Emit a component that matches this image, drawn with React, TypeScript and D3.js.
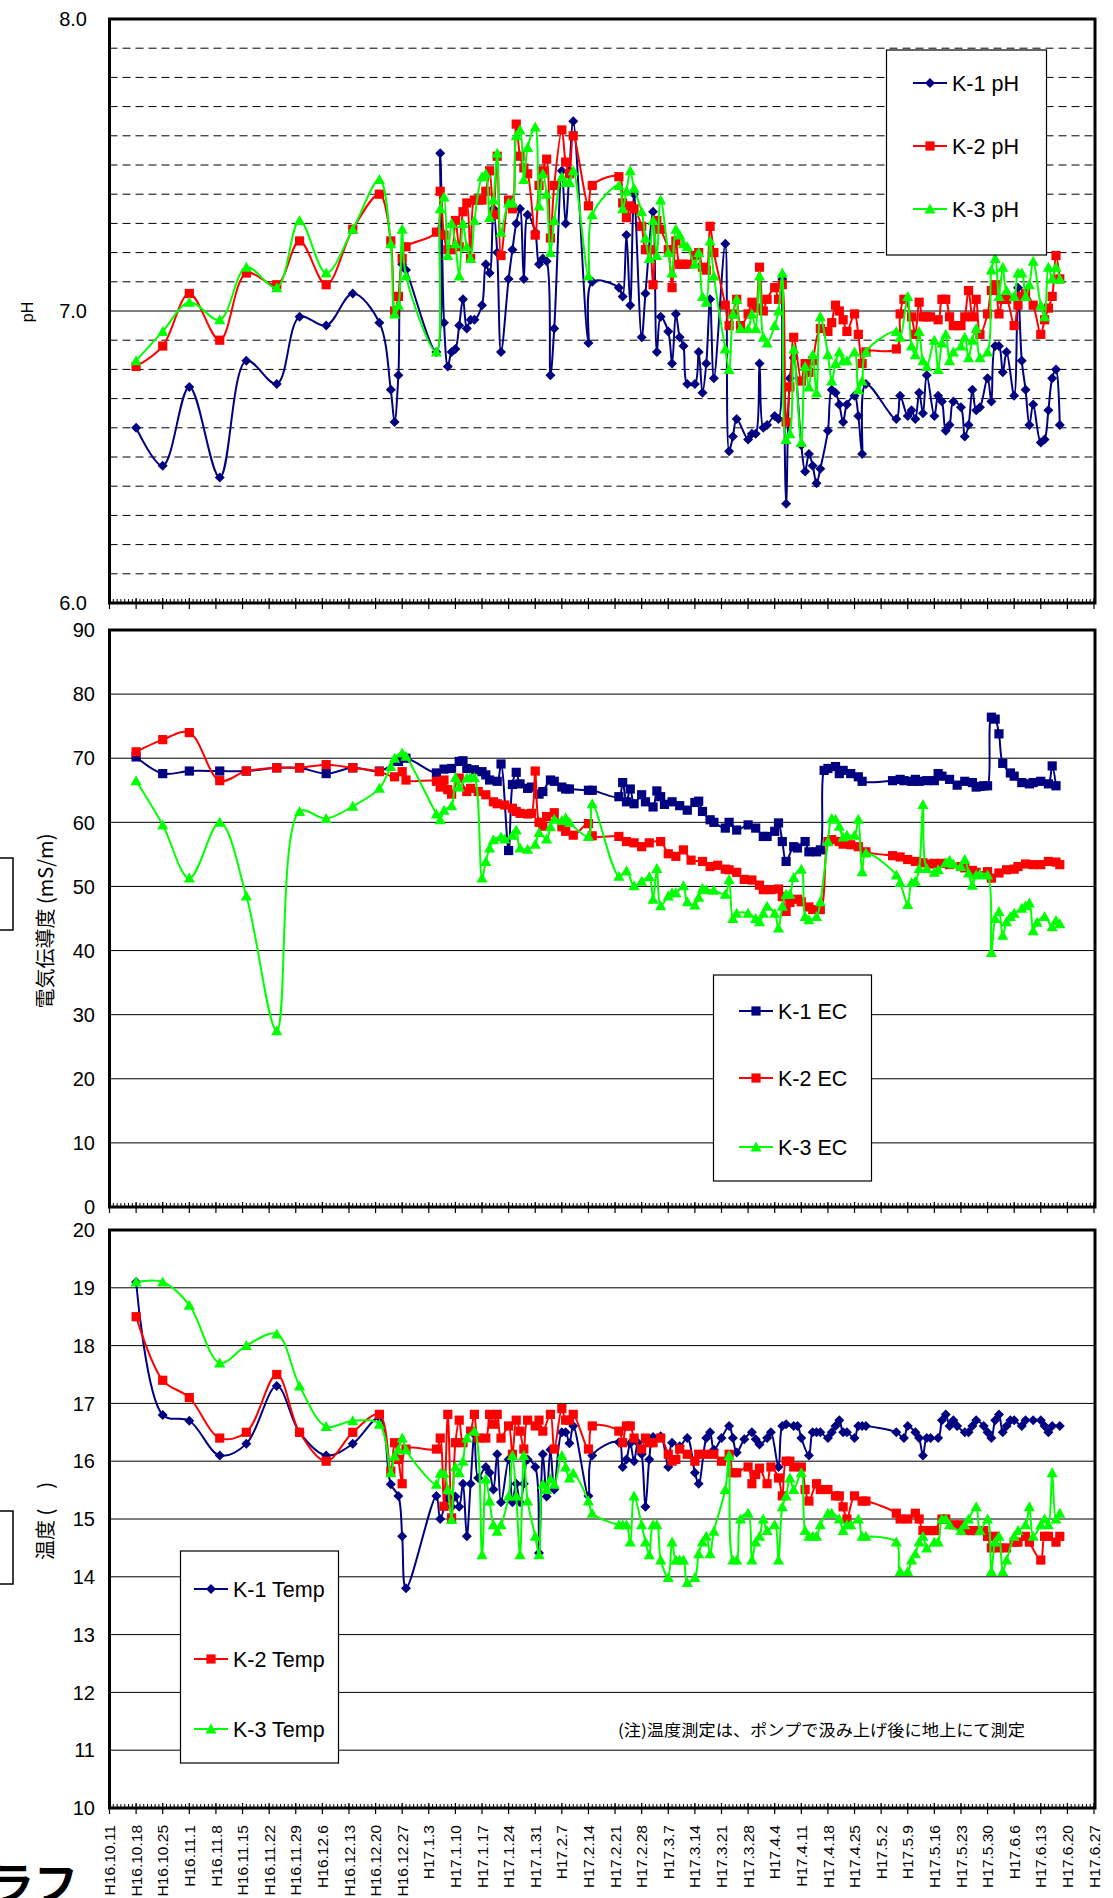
import React from 'react';
import * as d3 from 'd3';

type Pt = [number, number]; // [days since H16.10.11, value]

// ---- x axis: weekly tick labels (H16.10.11 .. H17.6.27) ----
const xTickLabels = [
  'H16.10.11', 'H16.10.18', 'H16.10.25', 'H16.11.1', 'H16.11.8', 'H16.11.15', 'H16.11.22',
  'H16.11.29', 'H16.12.6', 'H16.12.13', 'H16.12.20', 'H16.12.27', 'H17.1.3', 'H17.1.10',
  'H17.1.17', 'H17.1.24', 'H17.1.31', 'H17.2.7', 'H17.2.14', 'H17.2.21', 'H17.2.28',
  'H17.3.7', 'H17.3.14', 'H17.3.21', 'H17.3.28', 'H17.4.4', 'H17.4.11', 'H17.4.18',
  'H17.4.25', 'H17.5.2', 'H17.5.9', 'H17.5.16', 'H17.5.23', 'H17.5.30', 'H17.6.6',
  'H17.6.13', 'H17.6.20', 'H17.6.27',
];

// ---- pH ----
const k1Ph: Pt[] = [
  [7, 6.60], [14, 6.47], [21, 6.74], [29, 6.43], [36, 6.83], [44, 6.75], [50, 6.98], [57, 6.95], [64, 7.06], [71, 6.96],
  [74, 6.73], [75, 6.62], [76, 6.78], [77, 7.16], [78, 7.14], [86, 6.86], [87, 7.54], [88, 6.96], [89, 6.81], [90, 6.86],
  [91, 6.87], [92, 6.95], [93, 7.04], [94, 6.94], [95, 6.97], [96, 6.97], [98, 7.02], [99, 7.16], [100, 7.13], [101, 7.35],
  [102, 7.20], [103, 6.86], [105, 7.11], [106, 7.21], [107, 7.30], [108, 7.35], [109, 7.11], [110, 7.33], [112, 7.27],
  [113, 7.16], [114, 7.18], [115, 7.17], [116, 6.78], [117, 6.94], [119, 7.48], [120, 7.30], [121, 7.48], [122, 7.65],
  [126, 6.89], [127, 7.10], [134, 7.08], [135, 7.05], [136, 7.26], [137, 7.02], [138, 7.40], [140, 6.91], [141, 7.06],
  [143, 7.34], [144, 6.86], [145, 6.98], [147, 6.93], [148, 6.82], [149, 6.99], [150, 6.91], [151, 6.88], [152, 6.75],
  [154, 6.75], [155, 6.86], [156, 6.72], [157, 6.82], [158, 7.04], [159, 6.77], [162, 7.23], [163, 6.52], [164, 6.57],
  [165, 6.63], [168, 6.56], [169, 6.58], [170, 6.58], [171, 6.82], [172, 6.60], [173, 6.61], [175, 6.64], [176, 6.63],
  [177, 7.11], [178, 6.34], [179, 6.77], [180, 6.84], [182, 6.54], [183, 6.45], [184, 6.51], [185, 6.47], [186, 6.41],
  [187, 6.46], [189, 6.59], [190, 6.73], [191, 6.72], [192, 6.68], [193, 6.62], [194, 6.68], [196, 6.71], [197, 6.64],
  [198, 6.51], [199, 6.75], [207, 6.63], [208, 6.71], [210, 6.64], [211, 6.66], [212, 6.63], [213, 6.72], [214, 6.65],
  [215, 6.78], [217, 6.64], [218, 6.71], [219, 6.69], [220, 6.59], [221, 6.61], [222, 6.69], [224, 6.67], [225, 6.57],
  [226, 6.61], [227, 6.73], [228, 6.66], [229, 6.67], [231, 6.77], [232, 6.69], [233, 6.88], [234, 6.88], [235, 6.79],
  [236, 6.86], [238, 6.71], [239, 7.08], [240, 6.83], [241, 6.73], [242, 6.61], [243, 6.68], [245, 6.55], [246, 6.56],
  [247, 6.66], [248, 6.77], [249, 6.80], [250, 6.61],
];
const k2Ph: Pt[] = [
  [7, 6.81], [14, 6.88], [21, 7.06], [29, 6.90], [36, 7.13], [44, 7.09], [50, 7.24], [57, 7.09], [64, 7.28], [71, 7.40],
  [74, 7.24], [75, 7.00], [76, 7.05], [77, 7.18], [78, 7.22], [86, 7.27], [87, 7.41], [88, 7.26], [89, 7.21], [90, 7.21],
  [91, 7.31], [92, 7.22], [93, 7.34], [94, 7.37], [95, 7.18], [96, 7.38], [97, 7.38], [98, 7.38], [99, 7.41], [100, 7.48],
  [101, 7.33], [102, 7.53], [103, 7.19], [105, 7.38], [106, 7.35], [107, 7.64], [108, 7.53], [109, 7.49], [110, 7.47],
  [112, 7.26], [113, 7.43], [114, 7.48], [115, 7.52], [116, 7.25], [117, 7.43], [119, 7.62], [120, 7.51], [121, 7.47],
  [122, 7.60], [126, 7.36], [127, 7.43], [134, 7.46], [135, 7.37], [136, 7.32], [137, 7.36], [138, 7.35], [140, 7.29],
  [141, 7.21], [142, 7.21], [143, 7.09], [144, 7.31], [145, 7.28], [147, 7.21], [148, 7.08], [149, 7.24], [150, 7.16],
  [151, 7.16], [152, 7.16], [154, 7.19], [155, 7.20], [156, 7.15], [157, 7.14], [158, 7.29], [159, 7.20], [162, 7.02],
  [163, 6.95], [164, 6.99], [165, 7.04], [166, 6.95], [168, 6.99], [169, 7.03], [170, 7.01], [171, 7.15], [172, 7.00],
  [173, 7.04], [175, 7.08], [176, 7.04], [177, 7.09], [178, 6.62], [179, 6.74], [180, 6.91], [182, 6.76], [183, 6.82],
  [184, 6.79], [185, 6.83], [187, 6.94], [189, 6.93], [190, 6.96], [191, 7.02], [192, 7.00], [193, 6.97], [194, 6.93],
  [196, 6.99], [197, 6.92], [198, 6.82], [199, 6.86], [207, 6.87], [208, 6.99], [209, 7.04], [211, 6.98], [212, 6.92],
  [213, 7.03], [214, 6.98], [215, 6.98], [216, 6.98], [218, 6.97], [219, 7.04], [220, 7.04], [221, 6.98], [222, 6.95],
  [223, 6.95], [224, 6.95], [225, 6.98], [226, 7.07], [227, 6.98], [228, 7.04], [229, 6.92], [231, 6.99], [232, 7.07],
  [233, 7.09], [234, 6.99], [235, 7.04], [236, 7.04], [238, 6.95], [239, 7.02], [240, 7.05], [241, 7.06], [243, 7.02],
  [245, 6.92], [246, 6.97], [247, 7.01], [248, 7.05], [249, 7.19], [250, 7.11],
];
const k3Ph: Pt[] = [
  [7, 6.83], [14, 6.93], [21, 7.03], [29, 6.97], [36, 7.15], [44, 7.08], [50, 7.31], [57, 7.13], [64, 7.28], [71, 7.45],
  [74, 7.23], [75, 6.99], [76, 7.02], [77, 7.28], [78, 7.12], [86, 6.86], [87, 7.35], [88, 7.39], [89, 7.19], [90, 7.30],
  [91, 7.23], [92, 7.12], [93, 7.30], [94, 7.22], [95, 7.18], [96, 7.31], [98, 7.46], [99, 7.47], [100, 7.32], [101, 7.38],
  [102, 7.54], [103, 7.27], [105, 7.37], [106, 7.37], [107, 7.60], [108, 7.62], [109, 7.45], [110, 7.56], [112, 7.63],
  [113, 7.36], [114, 7.47], [115, 7.40], [116, 7.20], [117, 7.31], [119, 7.46], [120, 7.44], [121, 7.44], [122, 7.48],
  [126, 7.12], [127, 7.33], [134, 7.43], [135, 7.35], [136, 7.41], [137, 7.48], [138, 7.42], [140, 7.34], [141, 7.25],
  [142, 7.18], [143, 7.31], [144, 7.19], [145, 7.38], [147, 7.20], [148, 7.13], [149, 7.28], [150, 7.26], [151, 7.23],
  [152, 7.22], [154, 7.16], [155, 7.20], [156, 7.05], [157, 7.03], [158, 7.24], [159, 7.12], [162, 6.87], [163, 6.80],
  [164, 6.99], [165, 7.04], [166, 6.94], [168, 6.94], [169, 6.99], [170, 6.94], [171, 7.12], [172, 6.91], [173, 6.89],
  [175, 6.95], [176, 7.00], [177, 7.13], [178, 6.56], [179, 6.58], [180, 6.87], [182, 6.55], [183, 6.81], [184, 6.74],
  [185, 6.85], [186, 6.72], [187, 6.98], [189, 6.85], [190, 6.76], [191, 6.82], [192, 6.86], [193, 6.83], [194, 6.83],
  [196, 6.86], [197, 6.73], [198, 6.76], [199, 6.86], [207, 6.93], [208, 6.91], [210, 7.05], [211, 6.88], [212, 6.85],
  [213, 6.93], [214, 6.83], [215, 6.81], [217, 6.90], [218, 6.80], [219, 6.89], [220, 6.92], [221, 6.83], [222, 6.86],
  [224, 6.88], [225, 6.91], [226, 6.84], [227, 6.90], [228, 6.94], [229, 6.84], [231, 6.86], [232, 7.14], [233, 7.18],
  [234, 7.05], [235, 7.15], [236, 7.07], [238, 7.05], [239, 7.13], [240, 7.13], [241, 7.05], [242, 7.09], [243, 7.17],
  [245, 7.02], [246, 6.98], [247, 7.15], [248, 7.11], [249, 7.15], [250, 7.11],
];

// ---- EC (mS/m) ----
const k1Ec: Pt[] = [
  [7, 70.2], [14, 67.6], [21, 68.0], [29, 68.0], [36, 68.0], [44, 68.5], [50, 68.5], [57, 67.6], [64, 68.5], [71, 68.0],
  [76, 69.5], [78, 70.0], [86, 67.7], [88, 68.3], [90, 68.4], [92, 69.5], [93, 69.6], [94, 68.4], [96, 68.2], [98, 67.9],
  [99, 67.4], [100, 66.6], [102, 66.4], [103, 69.1], [105, 55.6], [106, 65.9], [107, 67.8], [108, 66.0], [110, 65.3],
  [111, 65.5], [113, 64.4], [114, 64.8], [116, 66.6], [117, 66.4], [119, 65.5], [120, 65.2], [121, 65.2], [126, 65.0],
  [127, 65.0], [134, 64.0], [135, 66.2], [136, 63.2], [137, 65.2], [138, 62.9], [140, 64.3], [141, 63.2], [143, 62.4],
  [144, 64.9], [145, 64.0], [146, 62.8], [148, 63.2], [150, 62.6], [152, 61.9], [154, 63.1], [155, 63.3], [156, 61.7],
  [158, 60.4], [159, 60.0], [162, 59.1], [163, 60.0], [165, 58.8], [168, 59.6], [170, 59.1], [172, 57.8], [173, 57.8],
  [175, 58.6], [176, 59.9], [177, 57.0], [178, 53.9], [180, 56.2], [181, 56.0], [183, 57.0], [184, 55.4], [186, 55.4],
  [187, 55.7], [188, 68.1], [189, 68.4], [191, 68.7], [192, 67.6], [193, 68.1], [195, 67.6], [197, 67.1], [198, 66.4],
  [206, 66.5], [208, 66.7], [209, 66.5], [211, 66.4], [212, 66.7], [213, 66.4], [215, 66.5], [217, 66.5], [218, 67.6],
  [219, 67.2], [221, 66.7], [223, 65.8], [225, 66.4], [227, 66.2], [228, 65.5], [229, 65.6], [230, 65.7], [231, 65.7],
  [232, 76.4], [233, 76.1], [234, 73.8], [235, 69.2], [237, 67.7], [238, 67.2], [240, 66.2], [242, 66.0], [243, 66.2],
  [245, 66.4], [247, 66.0], [248, 68.8], [249, 65.7],
];
const k2Ec: Pt[] = [
  [7, 71.0], [14, 72.9], [21, 74.0], [29, 66.5], [36, 68.0], [44, 68.5], [50, 68.5], [57, 69.0], [64, 68.5], [71, 67.9],
  [75, 67.1], [77, 67.9], [78, 66.6], [86, 66.4], [87, 65.5], [88, 66.6], [89, 65.1], [90, 64.4], [92, 66.9], [94, 64.8],
  [95, 65.3], [97, 64.8], [99, 64.3], [101, 63.2], [102, 62.9], [104, 62.7], [106, 62.2], [107, 61.7], [108, 61.4],
  [110, 61.3], [111, 61.4], [112, 68.0], [113, 60.0], [114, 59.4], [115, 60.9], [117, 61.5], [119, 59.3], [120, 58.6],
  [122, 58.0], [126, 59.8], [127, 57.9], [134, 57.8], [136, 57.0], [138, 56.8], [140, 56.2], [142, 56.8], [145, 57.0],
  [147, 55.1], [149, 54.7], [151, 55.7], [153, 54.1], [156, 53.9], [158, 53.1], [160, 53.3], [162, 52.7], [163, 52.6],
  [165, 52.2], [167, 51.1], [169, 51.0], [171, 50.2], [172, 49.5], [174, 49.5], [176, 49.6], [177, 48.4], [178, 46.1],
  [179, 47.5], [181, 48.0], [182, 47.6], [184, 46.8], [185, 46.4], [187, 46.4], [189, 57.0], [190, 57.3], [192, 57.0],
  [193, 56.6], [195, 56.5], [197, 56.2], [199, 55.4], [206, 54.8], [208, 54.6], [210, 54.2], [212, 53.9], [214, 53.7],
  [216, 53.5], [217, 53.6], [219, 53.6], [221, 53.4], [224, 53.1], [225, 52.9], [227, 52.5], [228, 52.2], [231, 52.3],
  [232, 51.3], [234, 52.1], [236, 52.6], [238, 52.7], [239, 53.1], [241, 53.5], [243, 53.4], [245, 53.4], [247, 53.9],
  [249, 53.8], [250, 53.4],
];
const k3Ec: Pt[] = [
  [7, 66.5], [14, 59.6], [21, 51.3], [29, 60.0], [36, 48.5], [44, 27.5], [50, 61.7], [57, 60.6], [64, 62.5], [71, 65.3],
  [74, 68.7], [75, 70.0], [77, 70.8], [78, 70.3], [86, 61.3], [87, 60.4], [88, 61.9], [90, 62.6], [91, 67.0], [92, 65.5],
  [94, 66.9], [95, 67.0], [96, 67.0], [98, 51.3], [99, 53.9], [100, 56.0], [101, 57.3], [103, 57.7], [104, 57.4],
  [106, 58.0], [107, 58.8], [108, 56.0], [110, 55.8], [112, 56.6], [113, 58.4], [115, 57.4], [116, 59.3], [117, 60.5],
  [119, 60.3], [120, 60.7], [121, 60.0], [126, 57.8], [127, 62.9], [134, 51.6], [136, 52.4], [138, 50.1], [140, 50.8],
  [142, 51.5], [143, 48.0], [144, 52.8], [145, 47.0], [147, 48.5], [148, 49.0], [149, 49.0], [151, 50.1], [152, 47.6],
  [154, 47.1], [155, 48.3], [156, 49.7], [157, 49.5], [159, 49.4], [162, 48.8], [163, 51.1], [164, 45.0], [165, 45.8],
  [168, 45.8], [170, 45.0], [171, 44.5], [172, 45.8], [173, 46.9], [175, 45.8], [176, 43.5], [177, 46.9], [178, 48.8],
  [179, 48.8], [180, 51.4], [182, 52.7], [183, 45.3], [184, 44.8], [186, 45.3], [187, 47.6], [189, 57.0], [190, 60.6],
  [191, 60.5], [192, 59.4], [193, 57.7], [194, 58.0], [196, 58.0], [197, 60.5], [198, 52.3], [199, 55.2], [207, 51.8],
  [208, 50.6], [210, 47.2], [211, 50.6], [212, 50.8], [213, 52.8], [214, 62.8], [215, 52.8], [217, 52.2], [218, 52.6],
  [220, 53.7], [221, 54.1], [222, 53.5], [224, 53.1], [225, 54.2], [226, 52.1], [227, 50.2], [228, 51.8], [229, 51.9],
  [231, 51.8], [232, 39.7], [233, 45.0], [234, 46.1], [235, 42.4], [236, 44.5], [237, 45.3], [238, 45.8], [240, 46.6],
  [241, 47.0], [242, 47.4], [243, 43.1], [244, 44.4], [246, 45.3], [248, 43.7], [249, 44.7], [250, 44.2],
];

// ---- Temperature ----
const k1Temp: Pt[] = [
  [7, 19.1], [14, 16.8], [21, 16.7], [29, 16.1], [36, 16.3], [44, 17.3], [50, 16.5], [57, 16.1], [64, 16.3], [71, 16.75],
  [74, 15.6], [76, 15.4], [77, 14.7], [78, 13.8], [86, 15.4], [87, 15.0], [89, 15.36], [90, 15.21], [91, 15.39],
  [92, 15.21], [93, 15.61], [94, 14.7], [95, 15.61], [96, 16.46], [97, 15.71], [99, 15.9], [100, 15.8], [101, 15.51],
  [102, 16.12], [103, 15.29], [105, 16.03], [106, 15.29], [107, 15.61], [108, 15.29], [109, 15.61], [110, 16.03],
  [112, 15.9], [113, 14.41], [114, 16.12], [115, 15.39], [116, 16.2], [117, 15.51], [119, 16.5], [120, 16.5], [121, 16.31],
  [122, 16.61], [126, 15.4], [127, 16.1], [134, 16.33], [135, 15.9], [136, 16.03], [137, 16.31], [138, 16.0], [139, 16.32],
  [140, 16.12], [141, 15.21], [142, 16.03], [143, 16.42], [145, 16.43], [147, 15.9], [148, 16.32], [150, 16.26],
  [152, 16.4], [154, 15.8], [155, 15.61], [157, 16.4], [158, 16.5], [159, 16.2], [161, 16.4], [163, 16.61], [164, 16.4],
  [165, 16.15], [167, 16.38], [169, 16.5], [170, 16.38], [171, 16.29], [173, 16.4], [174, 16.5], [176, 15.9], [177, 16.61],
  [178, 16.64], [180, 16.61], [181, 16.61], [182, 16.4], [184, 16.1], [185, 16.5], [186, 16.5], [187, 16.5], [189, 16.4],
  [190, 16.5], [191, 16.61], [192, 16.71], [193, 16.5], [194, 16.5], [196, 16.4], [197, 16.61], [198, 16.61], [199, 16.61],
  [207, 16.5], [209, 16.4], [210, 16.61], [212, 16.5], [213, 16.4], [214, 16.1], [215, 16.4], [216, 16.4], [218, 16.4],
  [219, 16.71], [220, 16.81], [221, 16.61], [222, 16.71], [223, 16.61], [225, 16.5], [226, 16.5], [227, 16.61],
  [228, 16.71], [230, 16.61], [231, 16.5], [232, 16.4], [233, 16.71], [234, 16.81], [235, 16.5], [236, 16.61],
  [237, 16.71], [238, 16.71], [240, 16.61], [241, 16.71], [243, 16.71], [245, 16.71], [246, 16.61], [247, 16.5],
  [248, 16.61], [250, 16.61],
];
const k2Temp: Pt[] = [
  [7, 18.5], [14, 17.4], [21, 17.1], [29, 16.4], [36, 16.5], [44, 17.5], [50, 16.5], [57, 16.0], [64, 16.5], [71, 16.81],
  [74, 15.83], [75, 16.32], [76, 16.03], [77, 15.61], [78, 16.21], [86, 16.21], [87, 16.4], [88, 15.22], [89, 16.81],
  [90, 15.02], [91, 16.32], [92, 16.71], [93, 16.32], [95, 16.52], [96, 16.81], [97, 16.4], [99, 16.4], [100, 16.81],
  [101, 16.64], [102, 16.81], [103, 16.4], [105, 16.61], [106, 16.12], [107, 16.71], [108, 16.52], [109, 16.21],
  [110, 16.71], [112, 16.61], [113, 16.71], [114, 16.52], [116, 16.81], [117, 16.21], [119, 16.91], [120, 16.71],
  [121, 16.71], [122, 16.81], [126, 16.21], [127, 16.61], [134, 16.52], [135, 16.32], [136, 16.61], [137, 16.61],
  [138, 16.4], [140, 16.21], [141, 16.4], [142, 16.32], [143, 16.32], [145, 16.4], [147, 16.12], [148, 16.0], [149, 16.03],
  [150, 16.21], [152, 16.12], [154, 16.0], [155, 16.12], [157, 16.12], [159, 16.12], [161, 16.0], [163, 16.12],
  [164, 15.8], [165, 15.8], [168, 15.9], [169, 15.61], [170, 15.77], [171, 15.88], [173, 15.61], [174, 15.9], [176, 15.71],
  [177, 15.4], [178, 16.0], [179, 16.0], [180, 15.9], [182, 15.9], [183, 15.51], [184, 15.31], [186, 15.61], [187, 15.51],
  [189, 15.51], [191, 15.4], [192, 15.4], [193, 15.21], [194, 15.0], [196, 15.4], [198, 15.31], [199, 15.31], [207, 15.1],
  [208, 15.0], [210, 15.0], [212, 15.1], [213, 15.0], [214, 14.8], [216, 14.8], [217, 14.8], [219, 15.0], [220, 15.0],
  [222, 14.9], [224, 14.9], [225, 14.8], [227, 14.8], [228, 14.8], [230, 14.8], [231, 14.7], [232, 14.5], [233, 14.7],
  [234, 14.5], [236, 14.5], [238, 14.6], [239, 14.6], [241, 14.7], [242, 14.6], [245, 14.29], [246, 14.7], [247, 14.7],
  [249, 14.6], [250, 14.7],
];
const k3Temp: Pt[] = [
  [7, 19.1], [14, 19.1], [21, 18.7], [29, 17.7], [36, 18.0], [44, 18.2], [50, 17.3], [57, 16.6], [64, 16.7], [71, 16.64],
  [74, 15.8], [75, 16.09], [76, 16.2], [77, 16.4], [78, 16.2], [86, 15.6], [87, 15.79], [88, 15.79], [89, 15.51],
  [90, 14.99], [91, 15.9], [92, 15.8], [93, 16.0], [94, 16.4], [96, 16.52], [98, 14.38], [99, 15.69], [100, 15.31],
  [101, 14.9], [102, 14.79], [103, 14.9], [105, 15.4], [106, 16.1], [107, 15.4], [108, 14.38], [109, 16.1], [110, 15.31],
  [112, 14.7], [113, 14.38], [114, 15.6], [115, 15.51], [116, 15.69], [117, 15.6], [119, 16.1], [120, 15.9], [121, 15.71],
  [122, 15.79], [126, 15.31], [127, 15.1], [134, 14.9], [135, 14.9], [136, 14.9], [137, 14.6], [138, 15.4], [140, 14.9],
  [141, 14.6], [142, 14.38], [143, 14.9], [144, 14.9], [145, 14.29], [147, 13.99], [148, 14.6], [149, 14.29], [150, 14.29],
  [151, 14.29], [152, 13.9], [154, 13.99], [155, 14.4], [156, 14.6], [157, 14.7], [158, 14.4], [159, 14.79], [162, 15.51],
  [163, 16.1], [164, 14.29], [165, 14.29], [166, 15.0], [168, 15.1], [169, 14.29], [170, 14.6], [171, 14.7], [172, 15.0],
  [173, 14.8], [175, 14.9], [176, 14.29], [177, 15.21], [178, 15.4], [179, 15.71], [180, 15.51], [182, 15.8], [183, 14.8],
  [184, 14.7], [185, 14.7], [186, 14.7], [187, 14.9], [189, 15.1], [190, 15.1], [192, 15.0], [193, 14.8], [194, 14.9],
  [195, 14.9], [197, 15.0], [198, 14.7], [199, 14.7], [207, 14.6], [208, 14.09], [210, 14.09], [211, 14.29], [212, 14.4],
  [213, 14.6], [214, 14.7], [215, 14.5], [217, 14.6], [218, 14.6], [219, 15.0], [220, 15.0], [221, 14.9], [224, 14.8],
  [225, 14.9], [226, 15.0], [228, 15.21], [229, 14.8], [231, 15.0], [232, 14.09], [233, 14.6], [234, 14.7], [235, 14.09],
  [236, 14.29], [238, 14.7], [239, 14.8], [241, 14.9], [242, 15.21], [243, 14.7], [245, 14.9], [246, 15.0], [247, 14.9],
  [248, 15.8], [249, 15.0], [250, 15.1],
];

const NAVY = '#000080';
const RED = '#ff0000';
const GREEN = '#00ff00';
const LATIN = '"Liberation Sans", Arial, sans-serif';
const JP = '"Noto Sans CJK JP", sans-serif';

const markerPath: Record<string, string> = {
  diamond: 'M0,-5L5,0L0,5L-5,0Z',
  square: 'M-4.6,-4.6H4.6V4.6H-4.6Z',
  triangle: 'M0,-5.5L5.6,4.5H-5.6Z',
};

const X0 = 109.5;
const X1 = 1094;
const x = d3.scaleLinear().domain([0, 259]).range([X0, X1]);

type Series = { name: string; data: Pt[]; color: string; marker: string };
type PanelCfg = {
  top: number;
  bottom: number;
  domain: [number, number];
  labels: number[];
  grid: number[];
  dashed: (v: number) => boolean;
  fmt: (v: number) => string;
  series: Series[];
  legend: { x: number; y: number; w: number; h: number; rows: number[]; lx: number };
  title: string;
  titleY: number;
  titleX: number;
  titleFont: string;
  titleSize: number;
};

const panels: PanelCfg[] = [
  {
    top: 19, bottom: 603, domain: [6, 8],
    labels: [6, 7, 8], grid: d3.range(61, 80).map((v) => v / 10),
    dashed: (v) => Math.abs(v - 7) > 1e-6, fmt: (v) => v.toFixed(1),
    series: [
      { name: 'K-1 pH', data: k1Ph, color: NAVY, marker: 'diamond' },
      { name: 'K-2 pH', data: k2Ph, color: RED, marker: 'square' },
      { name: 'K-3 pH', data: k3Ph, color: GREEN, marker: 'triangle' },
    ],
    legend: { x: 886.5, y: 50, w: 160, h: 205, rows: [83, 146, 209], lx: 913 },
    title: 'pH', titleX: 33, titleY: 312, titleFont: LATIN, titleSize: 16,
  },
  {
    top: 630, bottom: 1207, domain: [0, 90],
    labels: d3.range(0, 91, 10), grid: d3.range(10, 81, 10),
    dashed: () => false, fmt: (v) => String(v),
    series: [
      { name: 'K-1 EC', data: k1Ec, color: NAVY, marker: 'square' },
      { name: 'K-2 EC', data: k2Ec, color: RED, marker: 'square' },
      { name: 'K-3 EC', data: k3Ec, color: GREEN, marker: 'triangle' },
    ],
    legend: { x: 713.5, y: 975, w: 158, h: 206, rows: [1011, 1078, 1147], lx: 739 },
    title: '電気伝導度  (mS/m)', titleX: 53, titleY: 921, titleFont: JP, titleSize: 20,
  },
  {
    top: 1230, bottom: 1808, domain: [10, 20],
    labels: d3.range(10, 21, 1), grid: d3.range(11, 20, 1),
    dashed: () => false, fmt: (v) => String(v),
    series: [
      { name: 'K-1 Temp', data: k1Temp, color: NAVY, marker: 'diamond' },
      { name: 'K-2 Temp', data: k2Temp, color: RED, marker: 'square' },
      { name: 'K-3 Temp', data: k3Temp, color: GREEN, marker: 'triangle' },
    ],
    legend: { x: 180.5, y: 1551, w: 158, h: 212, rows: [1589, 1659, 1729], lx: 194 },
    title: '温度 (\u3000)', titleX: 53, titleY: 1521, titleFont: JP, titleSize: 20,
  },
];

function Panel({ cfg }: { cfg: PanelCfg }) {
  const y = d3.scaleLinear().domain(cfg.domain).range([cfg.bottom, cfg.top]);
  const line = d3
    .line<Pt>()
    .x((d) => x(d[0]))
    .y((d) => y(d[1]))
    .curve(d3.curveCatmullRom);
  const days = d3.range(0, 260);
  const weeks = d3.range(0, 260, 7);
  const lg = cfg.legend;
  return (
    <g>
      {cfg.grid.map((v) => (
        <line
          key={v}
          x1={X0}
          x2={1095}
          y1={y(v)}
          y2={y(v)}
          stroke="#000"
          strokeWidth={1}
          strokeDasharray={cfg.dashed(v) ? '8,5' : undefined}
        />
      ))}
      {/* daily minor ticks and weekly major ticks */}
      {days.map((d) => (
        <line key={'m' + d} x1={x(d)} x2={x(d)} y1={cfg.bottom} y2={cfg.bottom - 4} stroke="#000" strokeWidth={1} />
      ))}
      {weeks.map((d) => (
        <line key={'w' + d} x1={x(d)} x2={x(d)} y1={cfg.bottom - 5} y2={cfg.bottom + 6} stroke="#000" strokeWidth={1.2} />
      ))}
      <rect x={X0} y={cfg.top} width={1095 - X0} height={cfg.bottom - cfg.top} fill="none" stroke="#000" strokeWidth={3} />
      {cfg.labels.map((v) => (
        <text
          key={'l' + v}
          x={cfg.domain[1] === 8 ? 87 : 95}
          y={y(v)}
          dy="0.36em"
          textAnchor="end"
          fontFamily={LATIN}
          fontSize={20}
        >
          {cfg.fmt(v)}
        </text>
      ))}
      <text
        transform={`translate(${cfg.titleX},${cfg.titleY}) rotate(-90)`}
        textAnchor="middle"
        fontFamily={cfg.titleFont}
        fontSize={cfg.titleSize}
      >
        {cfg.title}
      </text>
      {cfg.series.map((s) => (
        <g key={s.name}>
          <path d={line(s.data) || ''} fill="none" stroke={s.color} strokeWidth={2} />
          {s.data.map((d, i) => (
            <path key={i} d={markerPath[s.marker]} transform={`translate(${x(d[0])},${y(d[1])})`} fill={s.color} />
          ))}
        </g>
      ))}
      <rect x={lg.x} y={lg.y} width={lg.w} height={lg.h} fill="#fff" stroke="#000" strokeWidth={1.2} />
      {cfg.series.map((s, i) => (
        <g key={'lg' + s.name}>
          <line x1={lg.lx} x2={lg.lx + 34} y1={lg.rows[i]} y2={lg.rows[i]} stroke={s.color} strokeWidth={2} />
          <path d={markerPath[s.marker]} transform={`translate(${lg.lx + 17},${lg.rows[i]})`} fill={s.color} />
          <text x={lg.lx + 39} y={lg.rows[i]} dy="0.36em" fontFamily={LATIN} fontSize={21.5}>
            {s.name}
          </text>
        </g>
      ))}
    </g>
  );
}

export default function App() {
  const bottom = panels[2].bottom;
  return (
    <svg
      width={1113}
      height={1898}
      style={{ position: 'absolute', left: 0, top: 0, background: '#fff' }}
    >
      <rect width={1113} height={1898} fill="#fff" />
      {panels.map((p, i) => (
        <Panel key={i} cfg={p} />
      ))}
      {xTickLabels.map((t, i) => (
        <text
          key={t}
          transform={`translate(${x(i * 7)},1825) rotate(-90)`}
          dy="0.36em"
          textAnchor="end"
          fontFamily={LATIN}
          fontSize={15.5}
        >
          {t}
        </text>
      ))}
      <text x={618} y={1736} fontFamily={JP} fontSize={16} textLength={407} lengthAdjust="spacingAndGlyphs">
        (注)温度測定は、ポンプで汲み上げ後に地上にて測定
      </text>
      {/* cut-off boxes and heading from the source document */}
      <rect x={-2} y={858} width={15} height={72} fill="none" stroke="#000" strokeWidth={1.5} />
      <rect x={-2} y={1511} width={15} height={73} fill="none" stroke="#000" strokeWidth={1.5} />
      <text x={78} y={1900 + (bottom - 1808)} textAnchor="end" fontFamily={JP} fontWeight="bold" fontSize={44}>
        グラフ
      </text>
    </svg>
  );
}
